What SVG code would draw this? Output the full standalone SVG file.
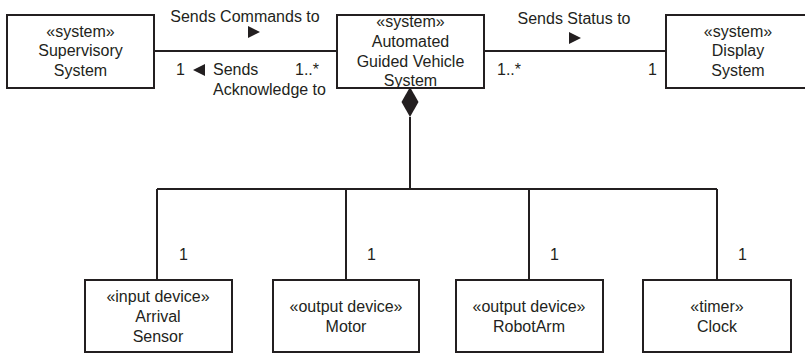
<svg xmlns="http://www.w3.org/2000/svg" width="805" height="354" viewBox="0 0 805 354">
<style>
.box{fill:#fff;stroke:#231f20;stroke-width:2}
.ln{fill:none;stroke:#231f20;stroke-width:2}
text{font-family:"Liberation Sans",Arial,sans-serif;font-size:16px;fill:#231f20;text-anchor:middle}
.s{text-anchor:start}
.tri{fill:#231f20}
</style>
<rect width="805" height="354" fill="#fff"/>
<g id="connectors">
<line class="ln" x1="154" y1="51" x2="337" y2="51"/>
<line class="ln" x1="484" y1="51" x2="666" y2="51"/>
<polyline class="ln" points="410,117 410,189"/>
<line class="ln" x1="157" y1="189" x2="717" y2="189"/>
<line class="ln" x1="157" y1="189" x2="157" y2="280"/>
<line class="ln" x1="346" y1="189" x2="346" y2="280"/>
<line class="ln" x1="529" y1="189" x2="529" y2="280"/>
<line class="ln" x1="717" y1="189" x2="717" y2="280"/>
<polygon class="tri" points="410,87 418.5,102 410,117 401.5,102"/>
<text x="245" y="22">Sends Commands to</text>
<polygon class="tri" points="248,26 260,32 248,38"/>
<text class="s" x="176" y="75">1</text>
<polygon class="tri" points="205,64 193,70 205,76"/>
<text class="s" x="213" y="75">Sends</text>
<text class="s" x="213" y="95">Acknowledge to</text>
<text class="s" x="295" y="75">1..*</text>
<text x="574" y="24">Sends Status to</text>
<polygon class="tri" points="569,32 581,38 569,44"/>
<text class="s" x="497" y="75">1..*</text>
<text class="s" x="648" y="75">1</text>
<text class="s" x="179" y="260">1</text>
<text class="s" x="367" y="260">1</text>
<text class="s" x="550" y="260">1</text>
<text class="s" x="738" y="260">1</text>
</g>
<g id="supervisory">
<rect class="box" x="7" y="15" width="147" height="73"/>
<text x="80.5" y="37">«system»</text>
<text x="80.5" y="56">Supervisory</text>
<text x="80.5" y="76">System</text>
</g>
<g id="agv">
<rect class="box" x="337" y="15" width="147" height="73"/>
<text x="410.5" y="27">«system»</text>
<text x="410.5" y="47">Automated</text>
<text x="410.5" y="67">Guided Vehicle</text>
<text x="410.5" y="86">System</text>
</g>
<g id="display">
<rect class="box" x="666" y="15" width="147" height="73"/>
<text x="738" y="37">«system»</text>
<text x="738" y="56">Display</text>
<text x="738" y="76">System</text>
</g>
<g id="arrival">
<rect class="box" x="85" y="280" width="147" height="72"/>
<text x="158" y="302">«input device»</text>
<text x="158" y="322">Arrival</text>
<text x="158" y="342">Sensor</text>
</g>
<g id="motor">
<rect class="box" x="273" y="280" width="146" height="72"/>
<text x="346" y="312">«output device»</text>
<text x="346" y="332">Motor</text>
</g>
<g id="robotarm">
<rect class="box" x="456" y="280" width="147" height="72"/>
<text x="529" y="312">«output device»</text>
<text x="529" y="332">RobotArm</text>
</g>
<g id="clock">
<rect class="box" x="643" y="280" width="148" height="72"/>
<text x="717" y="312">«timer»</text>
<text x="717" y="332">Clock</text>
</g>
</svg>
